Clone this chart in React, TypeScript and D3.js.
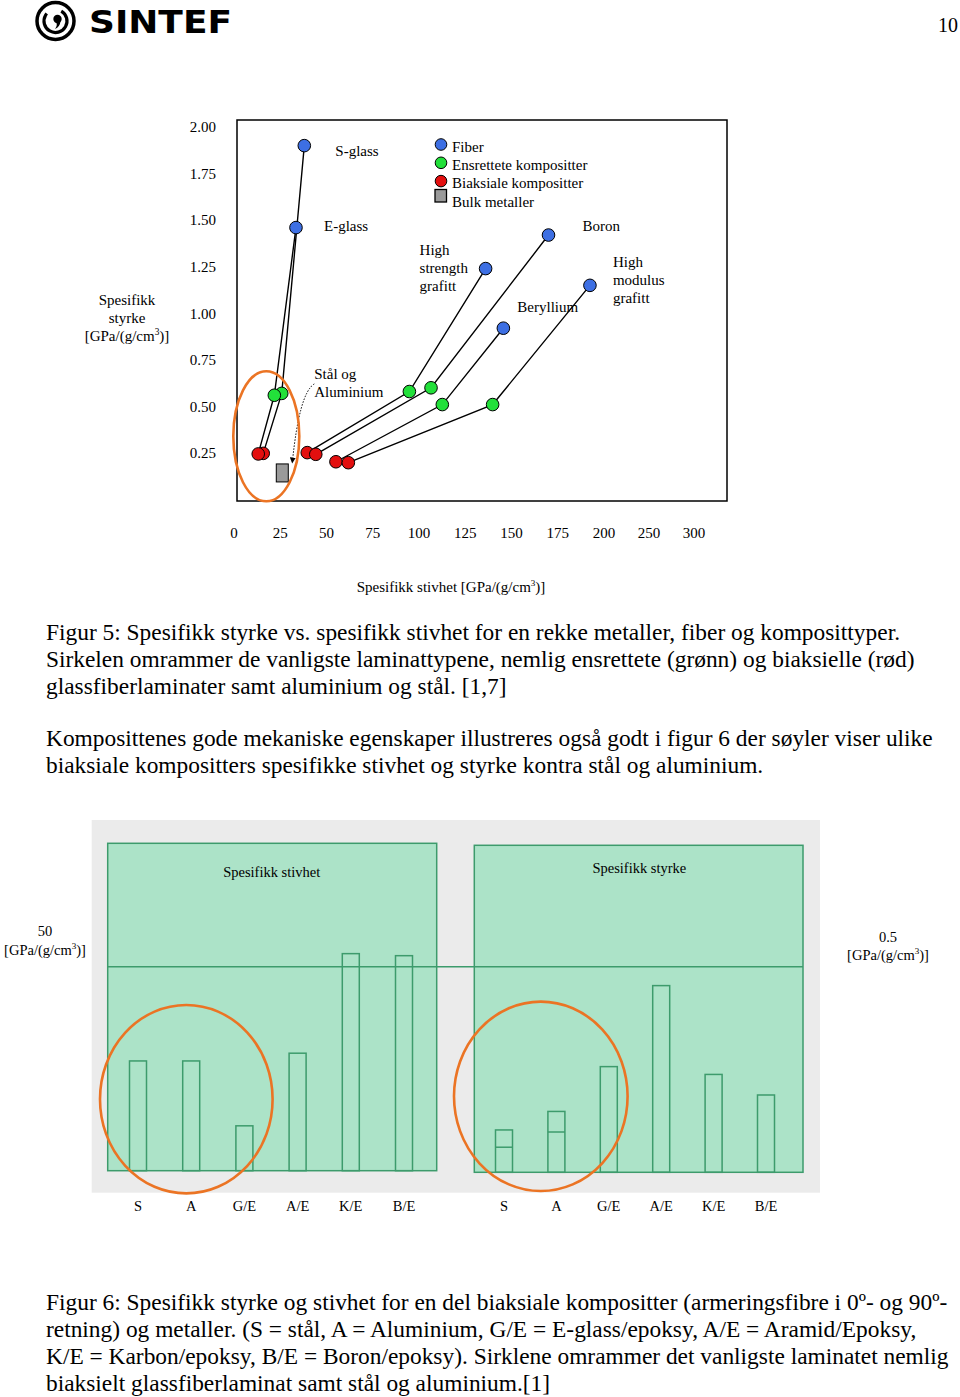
import * as d3 from 'd3';

const SERIF = '"Liberation Serif", "Times New Roman", serif';

// ---- Figur 5: spesifikk styrke vs. spesifikk stivhet ----
const materials = ['S-glass', 'E-glass', 'High strength grafitt', 'Boron', 'Beryllium', 'High modulus grafitt'];
const fiberStiffness = [38.0, 33.5, 136, 170, 145.6, 192.4];
const fiberStrength = [1.9, 1.46, 1.24, 1.42, 0.92, 1.15];
const uniStiffness = [25.8, 21.8, 94.8, 106.5, 112.6, 139.8];
const uniStrength = [0.57, 0.56, 0.58, 0.6, 0.51, 0.51];
const biaxStiffness = [15.8, 13.1, 39.6, 44.2, 55.1, 61.8];
const biaxStrength = [0.248, 0.245, 0.252, 0.243, 0.203, 0.198];
const bulkStiffness = [26.1];
const bulkStrength = [0.143];

const xTicks = [0, 25, 50, 75, 100, 125, 150, 175, 200, 250, 300];
const yTicks = [0.25, 0.5, 0.75, 1.0, 1.25, 1.5, 1.75, 2.0];

const legendItems = ['Fiber', 'Ensrettete kompositter', 'Biaksiale kompositter', 'Bulk metaller'];

// ---- Figur 6: søyler ----
const barCats = ['S', 'A', 'G/E', 'A/E', 'K/E', 'B/E'];
const stiffnessBars = [26.9, 26.9, 11.0, 28.8, 53.2, 52.7];
const strengthBars = [0.103, 0.148, 0.257, 0.454, 0.238, 0.188];
const strengthLower = [0.061, 0.098, null, null, null, null];

const caption5 = [
  'Figur 5: Spesifikk styrke vs. spesifikk stivhet for en rekke metaller, fiber og komposittyper.',
  'Sirkelen omrammer de vanligste laminattypene, nemlig ensrettete (grønn) og biaksielle (rød)',
  'glassfiberlaminater samt aluminium og stål. [1,7]',
];
const paragraph = [
  'Komposittenes gode mekaniske egenskaper illustreres også godt i figur 6 der søyler viser ulike',
  'biaksiale kompositters spesifikke stivhet og styrke kontra stål og aluminium.',
];
const caption6 = [
  'Figur 6: Spesifikk styrke og stivhet for en del biaksiale kompositter (armeringsfibre i 0º- og 90º-',
  'retning) og metaller. (S = stål, A = Aluminium, G/E = E-glass/epoksy, A/E = Aramid/Epoksy,',
  'K/E = Karbon/epoksy, B/E = Boron/epoksy). Sirklene omrammer det vanligste laminatet nemlig',
  'biaksielt glassfiberlaminat samt stål og aluminium.[1]',
];

const BLUE = '#3d6fe3';
const GREEN = '#22e03a';
const RED = '#e30f0f';
const ORANGE = '#eb7424';
const MINT = '#ace3c8';
const MINT_STROKE = '#3d9b6c';
const BODY_SIZE = 23.4;

// label offsets (px) from each fibre point
const fiberLabelOffset: [number, number][] = [
  [31, 10], [28, 3], [-66, -14], [34, -4], [14, -16], [23, -18],
];
const fiberLabelLines = [
  ['S-glass'], ['E-glass'], ['High', 'strength', 'grafitt'], ['Boron'], ['Beryllium'], ['High', 'modulus', 'grafitt'],
];

function Unit({ x, y, size = 15 }: { x: number; y: number; size?: number }) {
  return (
    <text x={x} y={y} textAnchor="middle" fontSize={size}>
      [GPa/(g/cm<tspan fontSize={size * 0.62} dy={-size * 0.38}>3</tspan>
      <tspan dy={size * 0.38}>)]</tspan>
    </text>
  );
}

export default function App() {
  const x = d3.scaleLinear().domain([0, 200, 300]).range([234, 604, 694]);
  const y = d3.scaleLinear().domain([0.25, 2]).range([453, 127]);
  const frame = { left: 237, top: 120, right: 727, bottom: 501 };

  const line = d3.line<[number, number]>().x(d => x(d[0])).y(d => y(d[1]));

  // bar panels
  const leftPanel = { x0: 107.7, x1: 436.7, top: 843.3, bottom: 1170.7 };
  const rightPanel = { x0: 474.3, x1: 803, top: 845.3, bottom: 1172.3 };
  const xStiff = d3.scalePoint<string>().domain(barCats).range([138, 404]);
  const xStrength = d3.scalePoint<string>().domain(barCats).range([504, 766]);
  const yStiff = d3.scaleLinear().domain([0, 50]).range([leftPanel.bottom, 966.7]);
  const yStrength = d3.scaleLinear().domain([0, 0.5]).range([rightPanel.bottom, 966.7]);
  const BW = 17;

  const bulkX = x(bulkStiffness[0]);
  const bulkY = y(bulkStrength[0]);

  return (
    <svg
      width={960}
      height={1397}
      viewBox="0 0 960 1397"
      style={{ position: 'absolute', left: 0, top: 0, background: '#fff' }}
      fontFamily={SERIF}
    >
      {/* header */}
      <g>
        <circle cx={55.5} cy={21} r={18.5} fill="none" stroke="#000" strokeWidth={3.5} />
        <circle cx={55.5} cy={21} r={11.5} fill="none" stroke="#000" strokeWidth={3.2} strokeDasharray="56 16" transform="rotate(-60 55.5 21)" />
        <circle cx={57.5} cy={19} r={4.2} fill="#000" />
        <path d="M60.5 21 Q60 27 55 29 Q58 25 56 22 Z" fill="#000" />
        <text x={89} y={33} fontFamily='"DejaVu Sans", Verdana, sans-serif' fontWeight="bold" fontSize={32} textLength={143} lengthAdjust="spacingAndGlyphs">
          SINTEF
        </text>
        <text x={948} y={32} textAnchor="middle" fontSize={20}>10</text>
      </g>

      {/* ---- Figur 5 ---- */}
      <rect x={frame.left} y={frame.top} width={frame.right - frame.left} height={frame.bottom - frame.top} fill="#fff" stroke="#000" strokeWidth={1.5} />

      {yTicks.map(t => (
        <text key={`yt-${t}`} x={216} y={y(t)} dy="0.35em" textAnchor="end" fontSize={15}>
          {t.toFixed(2)}
        </text>
      ))}
      {xTicks.map(t => (
        <text key={`xt-${t}`} x={x(t)} y={538} textAnchor="middle" fontSize={15}>
          {t}
        </text>
      ))}
      <text x={127} y={305} textAnchor="middle" fontSize={15}>Spesifikk</text>
      <text x={127} y={323} textAnchor="middle" fontSize={15}>styrke</text>
      <Unit x={127} y={341} />
      <text x={451} y={592} textAnchor="middle" fontSize={15}>
        Spesifikk stivhet [GPa/(g/cm<tspan fontSize={9} dy={-6}>3</tspan>
        <tspan dy={6}>)]</tspan>
      </text>

      {/* connecting lines */}
      {materials.map((m, i) => (
        <path
          key={`ln-${m}`}
          d={line([
            [fiberStiffness[i], fiberStrength[i]],
            [uniStiffness[i], uniStrength[i]],
            [biaxStiffness[i], biaxStrength[i]],
          ]) ?? ''}
          fill="none"
          stroke="#000"
          strokeWidth={1.4}
        />
      ))}

      {/* dotted arrow to bulk metals */}
      <defs>
        <marker id="arr" viewBox="0 0 10 10" refX={9} refY={5} markerWidth={6} markerHeight={6} orient="auto">
          <path d="M0 0 L10 5 L0 10 Z" fill="#000" />
        </marker>
      </defs>
      <path
        d={`M${bulkX + 32} ${bulkY - 89} Q${bulkX + 17} ${bulkY - 80} ${bulkX + 10} ${bulkY - 10}`}
        fill="none"
        stroke="#000"
        strokeWidth={1}
        strokeDasharray="1.5 1.5"
        markerEnd="url(#arr)"
      />

      {/* markers */}
      {biaxStiffness.map((v, i) => (
        <circle key={`r-${i}`} cx={x(v)} cy={y(biaxStrength[i])} r={6.3} fill={RED} stroke="#000" strokeWidth={1} />
      ))}
      {uniStiffness.map((v, i) => (
        <circle key={`g-${i}`} cx={x(v)} cy={y(uniStrength[i])} r={6.3} fill={GREEN} stroke="#000" strokeWidth={1} />
      ))}
      {fiberStiffness.map((v, i) => (
        <circle key={`b-${i}`} cx={x(v)} cy={y(fiberStrength[i])} r={6.3} fill={BLUE} stroke="#000" strokeWidth={1} />
      ))}
      {bulkStiffness.map((v, i) => (
        <rect key={`m-${i}`} x={x(v) - 6} y={y(bulkStrength[i]) - 9} width={12} height={18} fill="#9a9a9a" stroke="#000" strokeWidth={1} />
      ))}

      {/* fibre labels */}
      {materials.map((m, i) => {
        const [dx, dy] = fiberLabelOffset[i];
        return (
          <text key={`lb-${m}`} fontSize={15}>
            {fiberLabelLines[i].map((s, j) => (
              <tspan key={j} x={x(fiberStiffness[i]) + dx} y={y(fiberStrength[i]) + dy + j * 18}>
                {s}
              </tspan>
            ))}
          </text>
        );
      })}
      <text x={bulkX + 32} y={bulkY - 93.5} fontSize={15}>Stål og</text>
      <text x={bulkX + 32} y={bulkY - 76} fontSize={15}>Aluminium</text>

      {/* legend */}
      {legendItems.map((s, i) => (
        <g key={`lg-${s}`}>
          {i < 3 ? (
            <circle cx={441} cy={144.5 + i * 18.3} r={5.8} fill={[BLUE, GREEN, RED][i]} stroke="#000" strokeWidth={1} />
          ) : (
            <rect x={435} y={189.5} width={11.5} height={12.5} fill="#9a9a9a" stroke="#000" strokeWidth={1.3} />
          )}
          <text x={452} y={152 + i * 18.2} fontSize={15}>{s}</text>
        </g>
      ))}

      <ellipse cx={266.3} cy={436.3} rx={33} ry={65} fill="none" stroke={ORANGE} strokeWidth={2.6} />

      {/* captions */}
      {caption5.map((s, i) => (
        <text key={`c5-${i}`} x={46} y={640 + i * 27} fontSize={BODY_SIZE}>{s}</text>
      ))}
      {paragraph.map((s, i) => (
        <text key={`p-${i}`} x={46} y={746 + i * 27} fontSize={BODY_SIZE}>{s}</text>
      ))}

      {/* ---- Figur 6 ---- */}
      <rect x={91.7} y={820} width={728.3} height={372.7} fill="#ebebeb" />
      <rect x={leftPanel.x0} y={leftPanel.top} width={leftPanel.x1 - leftPanel.x0} height={leftPanel.bottom - leftPanel.top} fill={MINT} stroke={MINT_STROKE} strokeWidth={1.5} />
      <rect x={rightPanel.x0} y={rightPanel.top} width={rightPanel.x1 - rightPanel.x0} height={rightPanel.bottom - rightPanel.top} fill={MINT} stroke={MINT_STROKE} strokeWidth={1.5} />
      <line x1={leftPanel.x0} x2={rightPanel.x1} y1={yStiff(50)} y2={yStiff(50)} stroke={MINT_STROKE} strokeWidth={1.5} />

      <text x={271.7} y={877} textAnchor="middle" fontSize={14.5}>Spesifikk stivhet</text>
      <text x={639.3} y={873} textAnchor="middle" fontSize={14.5}>Spesifikk styrke</text>

      {barCats.map((c, i) => (
        <rect key={`bs-${c}`} x={(xStiff(c) ?? 0) - BW / 2} y={yStiff(stiffnessBars[i])} width={BW} height={yStiff(0) - yStiff(stiffnessBars[i])} fill="none" stroke={MINT_STROKE} strokeWidth={1.5} />
      ))}
      {barCats.map((c, i) => (
        <g key={`bt-${c}`}>
          <rect x={(xStrength(c) ?? 0) - BW / 2} y={yStrength(strengthBars[i])} width={BW} height={yStrength(0) - yStrength(strengthBars[i])} fill="none" stroke={MINT_STROKE} strokeWidth={1.5} />
          {strengthLower[i] != null && (
            <line x1={(xStrength(c) ?? 0) - BW / 2} x2={(xStrength(c) ?? 0) + BW / 2} y1={yStrength(strengthLower[i] as number)} y2={yStrength(strengthLower[i] as number)} stroke={MINT_STROKE} strokeWidth={1.5} />
          )}
        </g>
      ))}

      {barCats.map(c => (
        <text key={`lx1-${c}`} x={xStiff(c)} y={1210.5} textAnchor="middle" fontSize={14.5}>{c}</text>
      ))}
      {barCats.map(c => (
        <text key={`lx2-${c}`} x={xStrength(c)} y={1210.5} textAnchor="middle" fontSize={14.5}>{c}</text>
      ))}

      <text x={45} y={936} textAnchor="middle" fontSize={14.5}>50</text>
      <Unit x={45} y={955} size={14.5} />
      <text x={888} y={942} textAnchor="middle" fontSize={14.5}>0.5</text>
      <Unit x={888} y={960} size={14.5} />

      <ellipse cx={186.3} cy={1099.2} rx={86.3} ry={94.2} fill="none" stroke={ORANGE} strokeWidth={2.6} />
      <ellipse cx={540.8} cy={1096.3} rx={86.8} ry={94.7} fill="none" stroke={ORANGE} strokeWidth={2.6} />

      {caption6.map((s, i) => (
        <text key={`c6-${i}`} x={46} y={1310 + i * 27} fontSize={BODY_SIZE}>{s}</text>
      ))}
    </svg>
  );
}
